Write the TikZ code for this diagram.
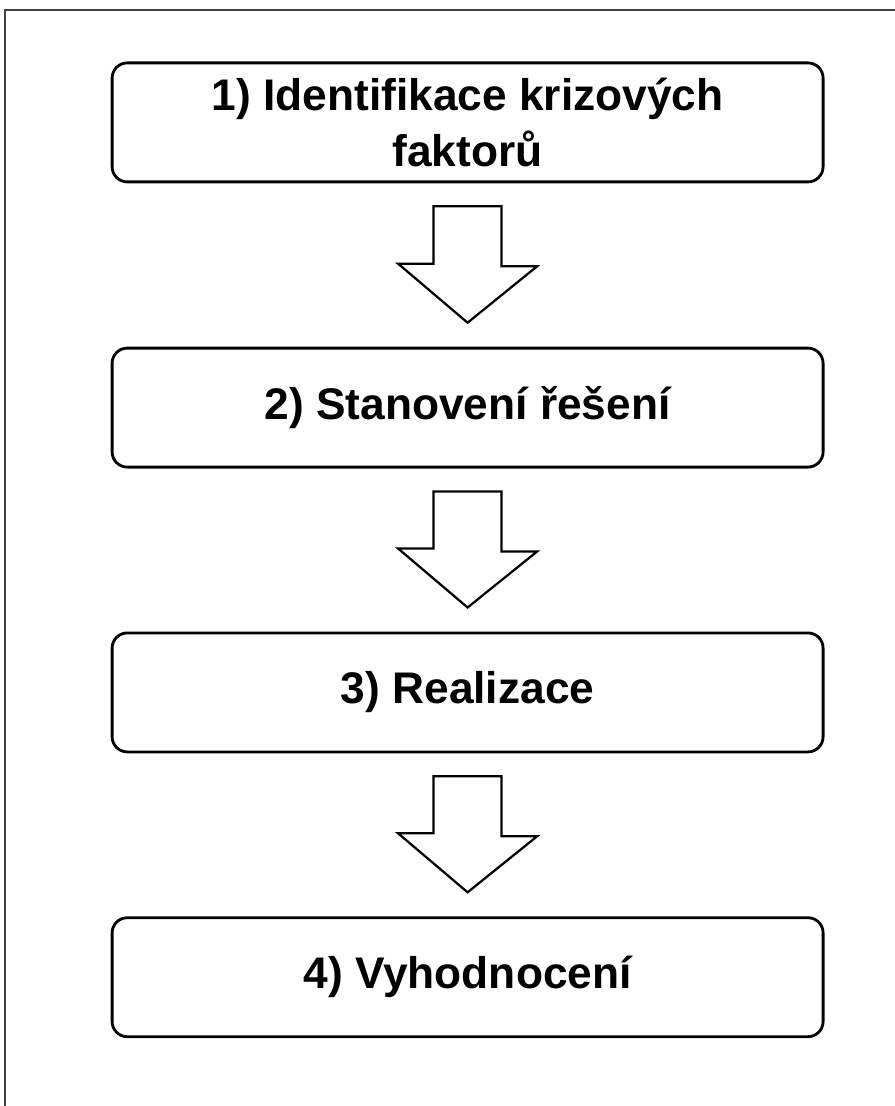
\documentclass[tikz,border=0pt]{standalone}
\usepackage{fontspec}
\setmainfont{Liberation Sans}
\usepackage{tikz}
\usetikzlibrary{positioning}
\usetikzlibrary{calc}

\begin{document}
\begin{tikzpicture}
			\tikzstyle{stage}=[rectangle, rounded corners=0.38cm, draw=black, line width=2pt, minimum width=17.775cm, minimum height=2.975cm, align=center, font=\fontsize{31.5}{40}\selectfont\bfseries]
			\tikzstyle{blockarrow}=[draw=black, line width=1.6pt, fill=white, line join=miter]
			
			\useasboundingbox (0,0) rectangle (22.375,-27.65);
			\draw [black!75, line width=1pt] (0.125,-27.65) -- (0.125,-0.25) -- (22.375,-0.25);
			
			\node at (11.69,-3.06) [stage] (s1) {1) Identifikace krizových\\faktorů};
			\node at (11.69,-10.19) [stage] (s2) {2) Stanovení řešení};
			\node at (11.69,-17.31) [stage] (s3) {3) Realizace};
			\node at (11.69,-24.43) [stage] (s4) {4) Vyhodnocení};
			
			% sipky mezi kroky
			\foreach \a/\b in {s1/s2, s2/s3, s3/s4}
				\draw [blockarrow] ($(\a.south)+(-0.85,-0.575)$) -- ++(1.7,0) -- ++(0,-1.5) -- ++(0.8875,0)
					-- ($(\b.north)+(0,0.6)$) -- ++(-1.7375,1.475) -- ++(0.8875,0) -- cycle;
\end{tikzpicture}
\end{document}
